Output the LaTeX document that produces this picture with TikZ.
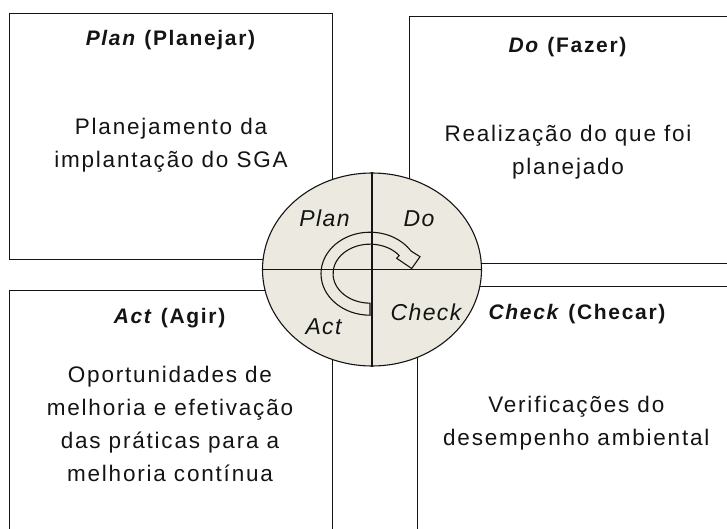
\documentclass[tikz,border=0pt]{standalone}
\usepackage{fontspec}
\setmainfont{Liberation Sans}
\usetikzlibrary{shapes.geometric}
\definecolor{cycfill}{RGB}{236,234,224}
\definecolor{ink}{RGB}{20,20,20}
\begin{document}
\begin{tikzpicture}[x=1pt,y=1pt,
  box/.style={draw=ink, line width=1.1pt, fill=white, inner sep=0pt, anchor=north west},
  ln/.style={draw=ink, line width=1.1pt},
  ttl/.style={anchor=base, inner sep=0pt, text=ink, font=\fontsize{21}{24}\selectfont\bfseries\addfontfeatures{LetterSpace=8}},
  bodytext/.style={anchor=base, inner sep=0pt, align=center, text=ink, font=\fontsize{22.5}{33}\selectfont\addfontfeatures{LetterSpace=8}},
  lbl/.style={anchor=base, inner sep=0pt, text=ink, font=\fontsize{23}{26}\selectfont\itshape\addfontfeatures{LetterSpace=6}}]
\useasboundingbox (0,0) rectangle (727,-529);
\begin{scope}
\clip (0,0) rectangle (727,-529);
\node[box, minimum width=323pt, minimum height=246pt] (planbox) at (9,-13) {};
\node[box, minimum width=330pt, minimum height=247pt] (dobox) at (409,-16) {};
\node[box, minimum width=323pt, minimum height=260pt] (actbox) at (9,-290) {};
\node[box, minimum width=330pt, minimum height=260pt] (checkbox) at (417,-286) {};
\end{scope}
% cycle
\node[ellipse, draw=ink, fill=cycfill, line width=1.1pt, minimum width=219pt, minimum height=193pt, inner sep=0pt] (cyc) at (372,-269.5) {};
\draw[ln] (cyc.north) -- (cyc.south);
\draw[ln] (cyc.west) -- (cyc.east);
\draw[ln, line join=miter] (370,-315.2) arc[start angle=-90, end angle=-327, x radius=49, y radius=41.5]
  -- (420,-256.7) -- (411.7,-268.5) -- (396.7,-258.3) -- (399.2,-255.5)
  arc[start angle=-322, end angle=-90, x radius=37, y radius=29.5] -- cycle;
\node[lbl] (lplan) at (324.5,-226) {Plan};
\node[lbl] (ldo) at (419,-226) {Do};
\node[lbl] (lcheck) at (426,-320) {Check};
\node[lbl] (lact) at (323.5,-334) {Act};
% titles
\node[ttl] (plantitle) at (170.5,-45.7) {\textit{Plan} (Planejar)};
\node[ttl] (dotitle) at (567.5,-53) {\textit{Do} (Fazer)};
\node[ttl] (acttitle) at (169.5,-323) {\textit{Act} (Agir)};
\node[ttl] (checktitle) at (577,-319) {\textit{Check} (Checar)};
% bodies (anchor = baseline of last line)
\node[bodytext] (planbody) at (171,-168) {Planejamento da\\implantação do SGA};
\node[bodytext] (dobody) at (568,-175) {Realização do que foi\\planejado};
\node[bodytext] (actbody) at (170,-481.7) {Oportunidades de\\melhoria e efetivação\\das práticas para a\\melhoria contínua};
\node[bodytext] (checkbody) at (576.3,-445) {Verificações do\\desempenho ambiental};
\end{tikzpicture}
\end{document}
